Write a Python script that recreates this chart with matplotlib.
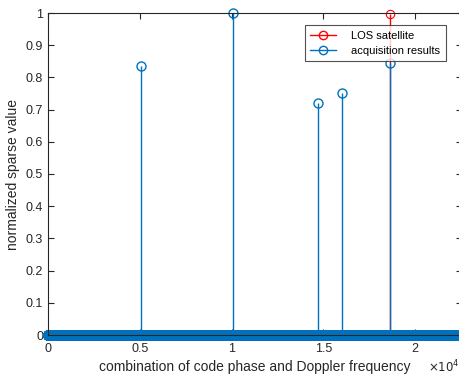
import numpy as np
import matplotlib
matplotlib.use("Agg")
import matplotlib.pyplot as plt

plt.rcParams['font.family'] = ['Liberation Sans', 'DejaVu Sans']

# data
n_bins = 22560
peak_idx = [5040, 10080, 14680, 16010, 18640]
peak_val = [0.835, 1.0, 0.722, 0.752, 0.845]
los_idx = [18640]
los_val = [0.997]
xticks = [0, 5000, 10000, 15000, 20000]
xtick_labels = ['0', '0.5', '1', '1.5', '2']
yticks = np.arange(0, 1.01, 0.1)
ytick_labels = ['0', '0.1', '0.2', '0.3', '0.4', '0.5', '0.6', '0.7', '0.8', '0.9', '1']

blue = '#0072BD'
red = '#FF0000'
dark = '#262626'

acq = np.zeros(n_bins)
acq[peak_idx] = peak_val
x_all = np.arange(n_bins)

fig = plt.figure(figsize=(4.6, 3.75), dpi=100)
ax = fig.add_axes([48/460, 1-335/375, 1.005-48/460, (335-13)/375])

# LOS satellite stem
ax.vlines(los_idx, 0, los_val, color=red, lw=1.0)
ax.plot(los_idx, los_val, ls='none', marker='o', mfc='none', mec=red, ms=6, mew=0.8, clip_on=False)
ax.plot([], [], color=red, marker='o', mfc='none', ms=6, lw=1.0, label='LOS satellite')

# acquisition results: vertical lines for non-zero values, markers everywhere
ax.vlines(peak_idx, 0, peak_val, color=blue, lw=1.0)
ax.plot(x_all, acq, ls='none', marker='o', mfc='none', mec=blue, ms=6.5, mew=1.0, clip_on=False)
ax.plot([], [], color=blue, marker='o', mfc='none', ms=6, lw=1.0, label='acquisition results')

ax.set_xlim(0, n_bins)
ax.set_ylim(0, 1)
ax.set_yticks(yticks)
ax.set_yticklabels(ytick_labels)
ax.set_xticks(xticks)
ax.set_xticklabels(xtick_labels)
ax.tick_params(direction='in', top=True, right=True, labelsize=9, length=4, colors=dark)
ax.tick_params(axis='x', pad=6)
for s in ax.spines.values():
    s.set_color(dark)
    s.set_linewidth(0.8)

fig.text(428/460, 1-372/375, r'$\times 10^{4}$', fontsize=8.5, color=dark, va='baseline', ha='left')

ax.set_xlabel('combination of code phase and Doppler frequency', fontsize=10, color=dark, labelpad=3)
ax.set_ylabel('normalized sparse value', fontsize=10, color=dark)

leg = fig.legend(handles=ax.get_legend_handles_labels()[0], labels=ax.get_legend_handles_labels()[1],
                 loc='upper right', bbox_to_anchor=(446/460, 1-25/375), fontsize=8,
                 frameon=True, fancybox=False, edgecolor=dark, handlelength=2.3,
                 handletextpad=1.4, borderpad=0.5, labelspacing=0.45, borderaxespad=0)
leg.get_frame().set_linewidth(0.8)

fig.savefig('out.png', dpi=100)
